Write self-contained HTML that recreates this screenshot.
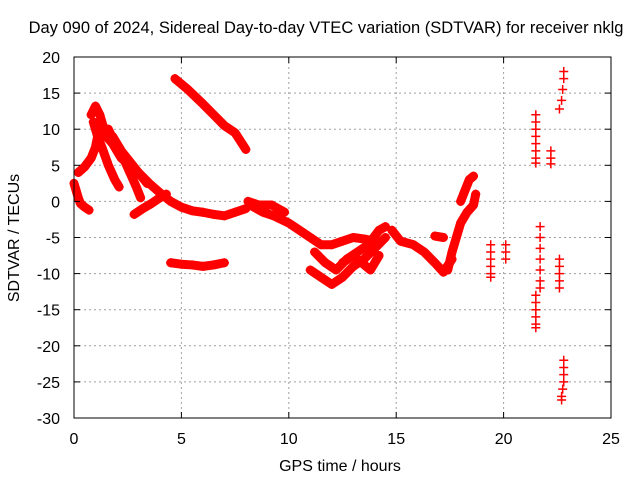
<!DOCTYPE html>
<html><head><meta charset="utf-8"><style>
body{margin:0;background:#fff}
svg{display:block;font-family:"Liberation Sans",sans-serif}
</style></head><body>
<svg id="chart" width="640" height="480" viewBox="0 0 640 480">
<rect width="640" height="480" fill="#fff"/>
<text x="326" y="33" font-size="16.5" text-anchor="middle">Day 090 of 2024, Sidereal Day-to-day VTEC variation (SDTVAR) for receiver nklg</text>
<g id="grid"></g>
<g id="marks"></g>
<rect x="74" y="57" width="537" height="361" fill="none" stroke="#000" stroke-width="1"/>
<g id="ticks"></g>
<text x="340" y="471" font-size="16" text-anchor="middle">GPS time / hours</text>
<text transform="translate(19,238) rotate(-90)" font-size="16" text-anchor="middle">SDTVAR / TECUs</text>
</svg>
<script>
const xTicks=[0,5,10,15,20,25];
const yTicks=[20,15,10,5,0,-5,-10,-15,-20,-25,-30];
const trackA=[[0,2.5],[0.1,1.5],[0.2,0.5],[0.3,-0.3],[0.5,-0.8],[0.7,-1.2]];
const trackB=[[0.2,4],[0.5,4.8],[0.8,6],[1.0,7.5],[1.1,9]];
const trackC=[[0.8,12],[1.0,13.2],[1.2,12],[1.5,9],[1.8,8],[2.2,6],[2.6,5],[3,4],[3.5,2.5],[4,1.2],[4.5,0],[5,-0.8],[5.5,-1.3],[6,-1.5],[6.5,-1.8],[7,-2],[7.5,-1.5],[8,-1]];
const trackD=[[0.9,11],[1.1,9],[1.3,7.5],[1.6,5],[1.9,3],[2.1,2]];
const trackE=[[1.6,10],[1.9,8],[2.3,6],[2.6,4],[2.9,2],[3.1,0.5]];
const trackF=[[1.8,9],[2.2,7],[2.6,5.5],[3,4],[3.4,2.5]];
const trackG=[[2.8,-1.8],[3.2,-1],[3.6,-0.3],[4,0.5],[4.3,1]];
const trackH=[[4.7,17],[5.3,15.5],[6,13.5],[6.5,12],[7,10.5],[7.5,9.5],[8,7.2]];
const trackI=[[4.5,-8.5],[5,-8.7],[5.5,-8.8],[6,-9],[6.5,-8.8],[7,-8.5]];
const trackJ=[[8.1,0],[8.6,-0.5],[9.2,-0.5],[9.8,-1.5]];
const trackK=[[8.2,-0.5],[8.8,-1.5],[9.3,-2],[10,-3],[10.5,-4],[11,-5],[11.5,-6],[12,-6],[12.5,-5.5],[13,-5],[13.5,-5.2],[14,-5.5]];
const trackL=[[11,-9.5],[11.5,-10.5],[12,-11.5],[12.5,-10.5],[13,-9],[13.5,-8],[14,-6.5],[14.5,-5]];
const trackM=[[11.2,-7],[11.7,-8.5],[12.2,-9.5],[12.7,-8],[13.2,-7],[13.7,-6],[14.2,-4],[14.5,-3.5]];
const trackN=[[12.5,-8.5],[13,-7.5],[13.4,-8.5],[13.8,-9.5],[14.2,-7.5]];
const trackO=[[14.8,-4],[15.2,-5.5],[15.8,-6],[16.3,-7],[16.8,-8.5],[17.2,-9.8],[17.6,-8]];
const trackP=[[16.8,-4.8],[17.2,-5]];
const trackQ=[[17.4,-9.5],[17.6,-7],[17.8,-5],[18,-3],[18.3,-1.5],[18.6,-0.5],[18.7,1]];
const trackR=[[18,0],[18.2,1.5],[18.4,3],[18.6,3.5]];
const trackS=[[19.4,-6],[19.4,-7],[19.4,-8],[19.4,-9],[19.4,-10],[19.4,-10.5]];
const trackT=[[20.1,-6],[20.1,-7],[20.1,-8]];
const trackU=[[21.5,12],[21.5,11],[21.5,10],[21.5,9],[21.5,8],[21.5,7],[21.5,6],[21.5,5.3]];
const trackV=[[21.5,-13],[21.5,-14],[21.5,-15],[21.5,-16],[21.5,-17],[21.5,-17.5]];
const trackW=[[21.7,-3.5],[21.7,-5],[21.7,-6.5],[21.7,-8],[21.7,-9.5],[21.7,-11],[21.7,-12]];
const trackX=[[22.2,7],[22.2,6],[22.2,5.2]];
const trackY=[[22.6,-8],[22.6,-9],[22.6,-10],[22.6,-11],[22.6,-12]];
const trackZ=[[22.6,12.8],[22.7,14],[22.75,15.5],[22.8,17],[22.8,18]];
const trackZZ=[[22.8,-22],[22.8,-23],[22.8,-24],[22.8,-25],[22.75,-26],[22.7,-27],[22.7,-27.5]];
const tracks=[trackA,trackB,trackC,trackD,trackE,trackF,trackG,trackH,trackI,trackJ,trackK,trackL,trackM,trackN,trackO,trackP,trackQ,trackR,trackS,trackT,trackU,trackV,trackW,trackX,trackY,trackZ,trackZZ];
const X0=74,X1=611,Y0=57,Y1=418;
function xs(h){return X0+(h-0)/(25-0)*(X1-X0);}
function ys(v){return Y0+(20-v)/(20-(-30))*(Y1-Y0);}
const NS="http://www.w3.org/2000/svg";
const grid=document.getElementById('grid'),ticks=document.getElementById('ticks'),marks=document.getElementById('marks');
function mk(t,a,p){const e=document.createElementNS(NS,t);for(const k in a)e.setAttribute(k,a[k]);p.appendChild(e);return e;}
xTicks.forEach(t=>{const x=xs(t);
 if(t>0&&t<25){const g=mk('line',{x1:x,y1:Y0,x2:x,y2:Y1,stroke:'#a0a0a0','stroke-dasharray':'2,3'},grid);
 
 }
 mk('line',{x1:x,y1:Y1,x2:x,y2:Y1-6,stroke:'#000'},ticks);
 mk('line',{x1:x,y1:Y0,x2:x,y2:Y0+6,stroke:'#000'},ticks);
 const l=mk('text',{x:x,y:Y1+26,'font-size':16,'text-anchor':'middle'},ticks);l.textContent=t;
 
 
});
yTicks.forEach(t=>{const y=ys(t);
 if(t<20&&t>-30){const g=mk('line',{x1:X0,y1:y,x2:X1,y2:y,stroke:'#a0a0a0','stroke-dasharray':'2,3'},grid);
 
 }
 mk('line',{x1:X0,y1:y,x2:X0+6,y2:y,stroke:'#000'},ticks);
 mk('line',{x1:X1,y1:y,x2:X1-6,y2:y,stroke:'#000'},ticks);
 const l=mk('text',{x:X0-14,y:y+6,'font-size':16,'text-anchor':'end'},ticks);l.textContent=t;
 
 
});
tracks.forEach((tr,i)=>{
 const vertical=tr.every(p=>Math.abs(p[0]-tr[0][0])<0.2);
 if(!vertical){
  const pl=mk('polyline',{points:tr.map(p=>xs(p[0])+','+ys(p[1])).join(' '),fill:'none',stroke:'#f00','stroke-width':9,'stroke-linejoin':'round','stroke-linecap':'round'},marks);
  
  
 }
 tr.forEach(p=>{const x=xs(p[0]),y=ys(p[1]);
  const g=mk('path',{d:`M${x-4.5},${y}H${x+4.5}M${x},${y-4.5}V${y+4.5}`,stroke:'#f00','stroke-width':1.5,fill:'none'},marks);
  
  
 });
});
</script>
</body></html>
